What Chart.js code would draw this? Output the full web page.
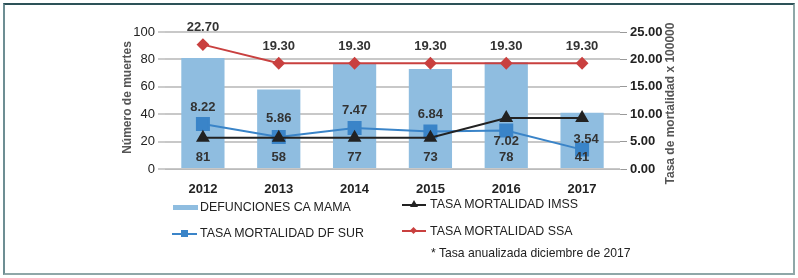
<!DOCTYPE html>
<html>
<head>
<meta charset="utf-8">
<script src="https://cdn.jsdelivr.net/npm/chart.js@4"></script>
<style>
  body { margin: 0; background: #fff; font-family: "Liberation Sans", Arial, sans-serif; }
  .frame { position: absolute; left: 3px; top: 3px; width: 788px; height: 268px;
    border-top: 2px solid #2d5258; border-left: 2px solid #6d8e93;
    border-right: 2px solid #8fa7a8; border-bottom: 2px solid #8fa7a8; }
  #wrap { position: absolute; left: 0; top: 0; width: 798px; height: 278px; }
  .leg { position: absolute; font-size: 12.4px; color: #222; white-space: nowrap; line-height: 16px; }
  .sw { position: absolute; }
</style>
</head>
<body>
<div class="frame"></div>
<div id="wrap"><canvas id="chart" width="798" height="278"></canvas></div>

<!-- legend -->
<div class="sw" style="left:173px;top:205px;width:25px;height:5px;background:#8fbde0"></div>
<div class="leg" style="left:200px;top:199px">DEFUNCIONES CA MAMA</div>

<div class="sw" style="left:172px;top:233px;width:25px;height:2px;background:#3a84c8"></div>
<div class="sw" style="left:181px;top:230px;width:7px;height:7px;background:#3a84c8"></div>
<div class="leg" style="left:200px;top:225px">TASA MORTALIDAD DF SUR</div>

<div class="sw" style="left:402px;top:204px;width:24px;height:2px;background:#222"></div>
<div class="sw" style="left:410px;top:200px;width:0;height:0;border-left:4px solid transparent;border-right:4px solid transparent;border-bottom:7px solid #222"></div>
<div class="leg" style="left:430px;top:196px">TASA MORTALIDAD IMSS</div>

<div class="sw" style="left:402px;top:230px;width:24px;height:2px;background:#c9403f"></div>
<div class="sw" style="left:411px;top:228px;width:5px;height:5px;background:#c9403f;transform:rotate(45deg)"></div>
<div class="leg" style="left:430px;top:223px">TASA MORTALIDAD SSA</div>

<div class="leg" style="left:431px;top:245px;font-size:12.2px">* Tasa anualizada diciembre de 2017</div>

<script>
// data
const years = ['2012', '2013', '2014', '2015', '2016', '2017'];
const defunciones = [81, 58, 77, 73, 78, 41];
const tasaDfSur = [8.22, 5.86, 7.47, 6.84, 7.02, 3.54];
const tasaImss = [5.7, 5.7, 5.7, 5.7, 9.3, 9.3];
const tasaSsa = [22.70, 19.30, 19.30, 19.30, 19.30, 19.30];

const leftTicks = [0, 20, 40, 60, 80, 100];
const rightTicks = [0, 5, 10, 15, 20, 25];

const fam = '"Liberation Sans", Arial, sans-serif';
const labelFont = 'bold 13px ' + fam;

// offsets for the value labels (px from the point)
const dfSurOffsets = [-17, -18, -18, -17, 11, -10];

// draws values next to bars and points
const valueLabels = {
    id: 'valueLabels',
    afterDatasetsDraw(chart) {
        const ctx = chart.ctx;
        ctx.save();
        ctx.font = labelFont;
        ctx.fillStyle = '#333';
        ctx.textAlign = 'center';
        ctx.textBaseline = 'middle';

        const bars = chart.getDatasetMeta(0).data;
        const base = chart.scales.y.getPixelForValue(0);
        bars.forEach((el, i) => {
            ctx.fillText(defunciones[i], el.x, base - 12);
        });

        chart.getDatasetMeta(1).data.forEach((el, i) => {
            ctx.fillText(tasaDfSur[i].toFixed(2), el.x + (i === 5 ? 4 : 0), el.y + dfSurOffsets[i]);
        });

        chart.getDatasetMeta(3).data.forEach((el, i) => {
            ctx.fillText(tasaSsa[i].toFixed(2), el.x, el.y - 17);
        });
        ctx.restore();
    }
};

// axis titles, both read bottom to top
const axisTitles = {
    id: 'axisTitles',
    afterDraw(chart) {
        const ctx = chart.ctx;
        const area = chart.chartArea;
        const mid = (area.top + area.bottom) / 2;
        ctx.save();
        ctx.font = 'bold 12px ' + fam;
        ctx.fillStyle = '#555';
        ctx.textAlign = 'center';
        ctx.textBaseline = 'middle';
        ctx.translate(128, mid - 3);
        ctx.rotate(-Math.PI / 2);
        ctx.fillText('Número de muertes', 0, 0);
        ctx.restore();
        ctx.save();
        ctx.font = 'bold 12px ' + fam;
        ctx.fillStyle = '#555';
        ctx.textAlign = 'center';
        ctx.textBaseline = 'middle';
        ctx.translate(671, mid + 3);
        ctx.rotate(-Math.PI / 2);
        ctx.fillText('Tasa de mortalidad x 100000', 0, 0);
        ctx.restore();
    }
};

const ctx = document.getElementById('chart').getContext('2d');
new Chart(ctx, {
    data: {
        labels: years,
        datasets: [
            {
                type: 'bar',
                label: 'DEFUNCIONES CA MAMA',
                data: defunciones,
                backgroundColor: '#8fbde0',
                yAxisID: 'y',
                categoryPercentage: 1,
                barPercentage: 0.57,
                order: 10
            },
            {
                type: 'line',
                label: 'TASA MORTALIDAD DF SUR',
                data: tasaDfSur,
                borderColor: '#3a84c8',
                backgroundColor: '#3a84c8',
                borderWidth: 2,
                pointStyle: 'rect',
                pointRadius: 8.5,
                yAxisID: 'y1',
                order: 3
            },
            {
                type: 'line',
                label: 'TASA MORTALIDAD IMSS',
                data: tasaImss,
                borderColor: '#222',
                backgroundColor: '#222',
                borderWidth: 2,
                pointStyle: 'triangle',
                pointRadius: 6,
                yAxisID: 'y1',
                order: 2
            },
            {
                type: 'line',
                label: 'TASA MORTALIDAD SSA',
                data: tasaSsa,
                borderColor: '#c9403f',
                backgroundColor: '#c9403f',
                borderWidth: 2,
                pointStyle: 'rectRot',
                pointRadius: 5,
                yAxisID: 'y1',
                order: 1
            }
        ]
    },
    options: {
        responsive: false,
        animation: false,
        layout: { padding: { left: 116, right: 118, top: 32, bottom: 79 } },
        plugins: {
            legend: { display: false },
            tooltip: { enabled: false }
        },
        scales: {
            x: {
                grid: { display: false },
                border: { color: '#bbb' },
                ticks: { color: '#222', font: { size: 13, weight: 'bold', family: fam }, padding: 5 },
                afterFit(s) { s.height = 30; }
            },
            y: {
                position: 'left',
                min: 0, max: 100,
                afterBuildTicks(s) { s.ticks = leftTicks.map(v => ({ value: v })); },
                grid: { color: '#c8c8c8', lineWidth: 2, tickLength: 7, tickColor: '#999', tickWidth: 1 },
                border: { display: false },
                ticks: { color: '#222', font: { size: 13, family: fam }, padding: 3 },
                afterFit(s) { s.width = 49; }
            },
            y1: {
                position: 'right',
                min: 0, max: 25,
                afterBuildTicks(s) { s.ticks = rightTicks.map(v => ({ value: v })); },
                grid: { drawOnChartArea: false, tickLength: 7, tickColor: '#999', tickWidth: 1 },
                border: { display: false },
                ticks: { color: '#222', font: { size: 13, weight: 'bold', family: fam }, padding: 3, callback: v => v.toFixed(2) },
                afterFit(s) { s.width = 60; }
            }
        }
    },
    plugins: [valueLabels, axisTitles]
});
</script>
</body>
</html>
